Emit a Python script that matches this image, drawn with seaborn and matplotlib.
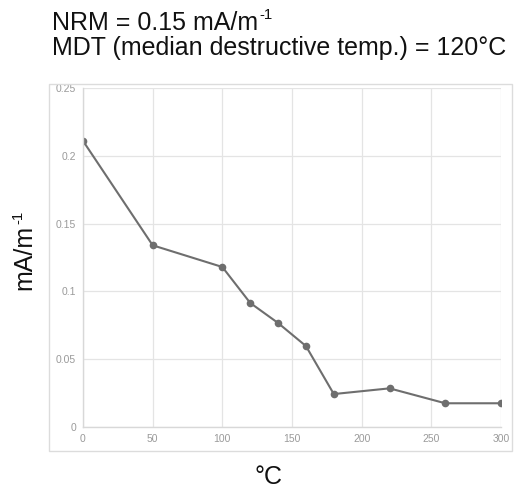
import matplotlib
matplotlib.use("Agg")
import matplotlib.pyplot as plt
import seaborn as sns
import pandas as pd
from matplotlib.patches import Rectangle

# Demagnetisation steps and remaining magnetisation
temps = [0, 50, 100, 120, 140, 160, 180, 220, 260, 300]
moment = [0.211, 0.134, 0.118, 0.0915, 0.0767, 0.0597, 0.0243, 0.0285, 0.0175, 0.0175]
x_ticks = [0, 50, 100, 150, 200, 250, 300]
y_ticks = [0, 0.05, 0.1, 0.15, 0.2, 0.25]
y_tick_labels = ["0", "0.05", "0.1", "0.15", "0.2", "0.25"]

title_main = ["NRM = 0.15 mA/m", "MDT (median destructive temp.) = 120°C"]
unit_sup = "-1"

sns.set_theme(style="whitegrid")
plt.rcParams["font.family"] = ["Liberation Sans", "DejaVu Sans"]

df = pd.DataFrame({"temp": temps, "moment": moment})

W, H = 514, 493
fig = plt.figure(figsize=(W / 100, H / 100), dpi=100)
ax = fig.add_axes([83 / W, 1 - 427 / H, (501 - 83) / W, (427 - 88) / H])

sns.lineplot(data=df, x="temp", y="moment", ax=ax, color="#6e6e6e",
             linewidth=1.5, marker="o", markersize=5.5, markeredgewidth=0)

ax.set_xlim(0, 300)
ax.set_ylim(0, 0.25)
ax.set_xticks(x_ticks)
ax.set_xticklabels([str(t) for t in x_ticks])
ax.set_yticks(y_ticks)
ax.set_yticklabels(y_tick_labels)
ax.tick_params(axis="both", labelsize=7.5, labelcolor="#9a9a9a", length=0, pad=5)
ax.grid(True, color="#e4e4e4", linewidth=0.9)
for side in ["top", "right"]:
    ax.spines[side].set_visible(False)
for side in ["left", "bottom"]:
    ax.spines[side].set_color("#d8d8d8")
    ax.spines[side].set_linewidth(1.0)
ax.set_xlabel("")
ax.set_ylabel("")

# light frame around the chart area
fig.patches.append(Rectangle((49 / W, 1 - 451 / H), (512 - 49) / W, (451 - 84) / H,
                             transform=fig.transFigure, fill=False,
                             edgecolor="#dcdcdc", linewidth=1.0))

FS = 18
renderer = fig.canvas.get_renderer()

# first title line with a raised "-1" exponent
t1 = fig.text(52 / W, 1 - 30 / H, title_main[0], fontsize=FS, color="#111111", va="baseline")
bb = t1.get_window_extent(renderer)
fig.text(bb.x1 / W + 1 / W, 1 - 19 / H, unit_sup, fontsize=FS * 0.6, color="#111111", va="baseline")
fig.text(52 / W, 1 - 55 / H, title_main[1], fontsize=FS, color="#111111", va="baseline")

# y-axis label, rotated, with its exponent
yl = fig.text(36 / W, 1 - 290 / H, "mA/m", fontsize=FS, rotation=90,
              ha="left", va="bottom", color="#111111", rotation_mode="anchor")
yb = yl.get_window_extent(renderer)
fig.text(25 / W, yb.y1 / H + 1 / H, unit_sup, fontsize=FS * 0.6, rotation=90,
         ha="left", va="bottom", color="#111111", rotation_mode="anchor")

fig.text(269 / W, 1 - 477 / H, "°C", fontsize=FS, ha="center", va="center", color="#111111")

fig.savefig("out.png", dpi=100)
